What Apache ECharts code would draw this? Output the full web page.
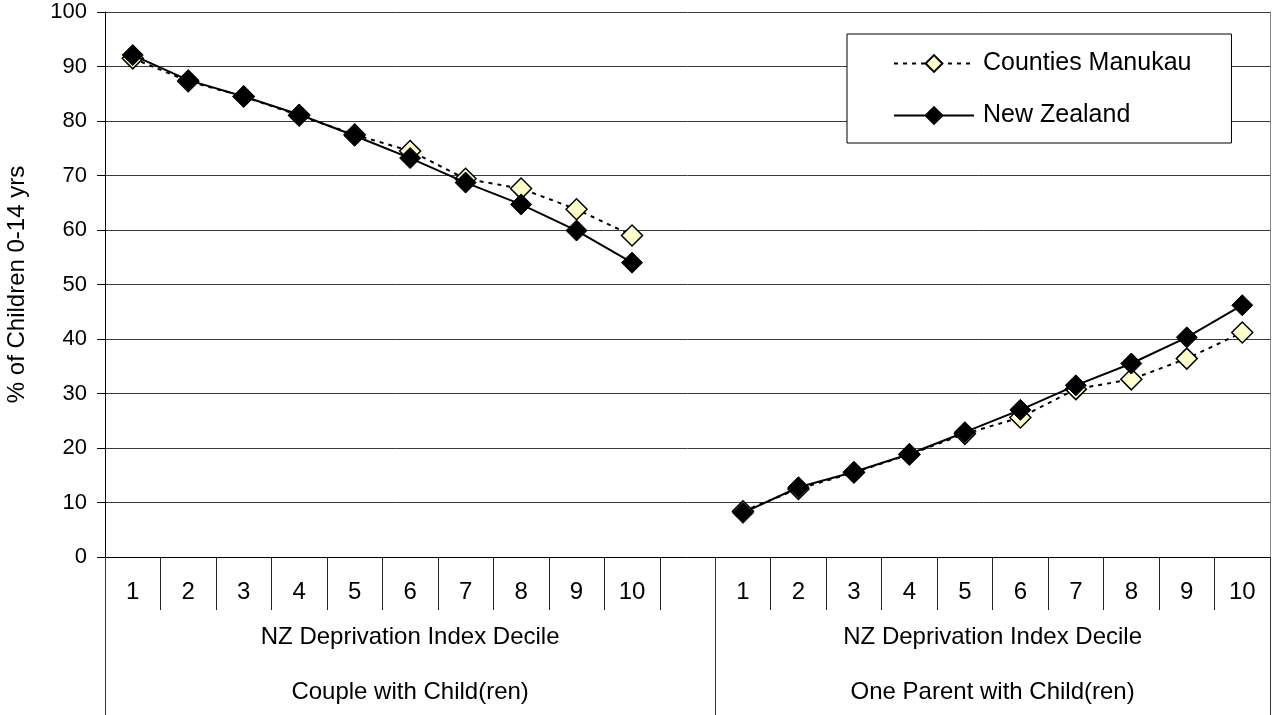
<!DOCTYPE html>
<html>
<head>
<meta charset="utf-8">
<script src="https://cdn.jsdelivr.net/npm/echarts@6/dist/echarts.min.js"></script>
<style>
  html, body { margin: 0; padding: 0; background: #fff; }
  #chart { width: 1272px; height: 715px; }
</style>
</head>
<body>
<div id="chart"></div>
<script>
// ---- data ----
const deciles = ['1', '2', '3', '4', '5', '6', '7', '8', '9', '10'];
const groupNames = ['Couple with Child(ren)', 'One Parent with Child(ren)'];
const groupSubtitle = 'NZ Deprivation Index Decile';
const seriesNames = ['Counties Manukau', 'New Zealand'];
const cmCouple = [91.5, 87.3, 84.5, 81.0, 77.5, 74.5, 69.4, 67.6, 63.8, 59.0];
const nzCouple = [92.1, 87.5, 84.5, 81.2, 77.3, 73.2, 68.7, 64.7, 59.9, 54.0];
const cmOneParent = [8.4, 12.5, 15.5, 18.8, 22.6, 25.6, 30.8, 32.6, 36.4, 41.2];
const nzOneParent = [8.1, 12.8, 15.6, 18.9, 22.9, 27.0, 31.5, 35.5, 40.3, 46.2];
const yTicks = [0, 10, 20, 30, 40, 50, 60, 70, 80, 90, 100];

// ---- build category axis: group1 + blank + group2 ----
const categories = deciles.concat([''], deciles);
const cmData = cmCouple.concat([null], cmOneParent);
const nzData = nzCouple.concat([null], nzOneParent);
const nCat = categories.length;
const groupBounds = [-0.5, deciles.length + 0.5, nCat - 0.5];
const groupCenters = [(groupBounds[0] + groupBounds[1]) / 2, (groupBounds[1] + groupBounds[2]) / 2];

const FONT = '"Liberation Sans", Arial, sans-serif';

const chart = echarts.init(document.getElementById('chart'), null, { renderer: 'canvas' });
chart.setOption({
  animation: false,
  backgroundColor: '#ffffff',
  textStyle: { fontFamily: FONT, color: '#000' },
  grid: { left: 105, right: 2, top: 12, bottom: 158, containLabel: false, outerBoundsMode: 'none' },
  legend: {
    orient: 'vertical',
    left: 847,
    top: 34,
    backgroundColor: '#ffffff',
    borderColor: '#000',
    borderWidth: 1,
    borderRadius: 0,
    padding: [17, 40, 15, 46],
    itemWidth: 80,
    itemHeight: 21,
    itemGap: 27,
    textStyle: { fontFamily: FONT, fontSize: 25, color: '#000', padding: [0, 0, 0, 4] },
    data: seriesNames
  },
  xAxis: [
    {
      type: 'category',
      data: categories,
      boundaryGap: true,
      axisLine: { show: true, onZero: false, lineStyle: { color: '#000', width: 1 } },
      axisTick: { show: true, interval: 0, length: 53, lineStyle: { color: '#222', width: 1 } },
      axisLabel: { interval: 0, fontSize: 24, color: '#000', fontFamily: FONT, margin: 23 },
      splitLine: { show: false }
    },
    {
      type: 'value',
      min: -0.5,
      max: nCat - 0.5,
      position: 'bottom',
      axisLine: { show: false, onZero: false },
      splitLine: { show: false },
      axisTick: {
        show: true,
        customValues: groupBounds,
        length: 158,
        lineStyle: { color: '#333', width: 1 }
      },
      axisLabel: {
        customValues: groupCenters,
        fontSize: 24,
        color: '#000',
        fontFamily: FONT,
        lineHeight: 55,
        margin: 53,
        formatter: function (v) {
          const gi = v < groupBounds[1] ? 0 : 1;
          return groupSubtitle + '\n' + groupNames[gi];
        }
      }
    }
  ],
  yAxis: [
    {
      type: 'value',
      min: yTicks[0],
      max: yTicks[yTicks.length - 1],
      interval: 10,
      name: '% of Children 0-14 yrs',
      nameLocation: 'middle',
      nameGap: 76,
      nameTextStyle: { fontSize: 24, color: '#000', fontFamily: FONT },
      axisLine: { show: true, onZero: false, lineStyle: { color: '#000', width: 1 } },
      axisTick: { show: true, length: 8, lineStyle: { color: '#000' } },
      axisLabel: { fontSize: 22, color: '#000', fontFamily: FONT, margin: 18 },
      splitLine: { show: true, lineStyle: { color: '#3a3a3a', width: 1 } }
    },
    {
      type: 'value',
      min: yTicks[0],
      max: yTicks[yTicks.length - 1],
      position: 'right',
      axisLine: { show: true, onZero: false, lineStyle: { color: '#888', width: 1 } },
      axisTick: { show: false },
      axisLabel: { show: false },
      splitLine: { show: false }
    }
  ],
  series: [
    {
      name: seriesNames[0],
      type: 'line',
      xAxisIndex: 0,
      yAxisIndex: 0,
      data: cmData,
      connectNulls: false,
      symbol: 'diamond',
      symbolSize: 21,
      lineStyle: { color: '#000', width: 2, type: [4, 5] },
      itemStyle: { color: '#FFFFCC', borderColor: '#000', borderWidth: 1.5 },
      z: 2
    },
    {
      name: seriesNames[1],
      type: 'line',
      xAxisIndex: 0,
      yAxisIndex: 0,
      data: nzData,
      connectNulls: false,
      symbol: 'diamond',
      symbolSize: 21,
      lineStyle: { color: '#000', width: 2, type: 'solid' },
      itemStyle: { color: '#000', borderColor: '#000', borderWidth: 1 },
      z: 3
    }
  ]
});
</script>
</body>
</html>
